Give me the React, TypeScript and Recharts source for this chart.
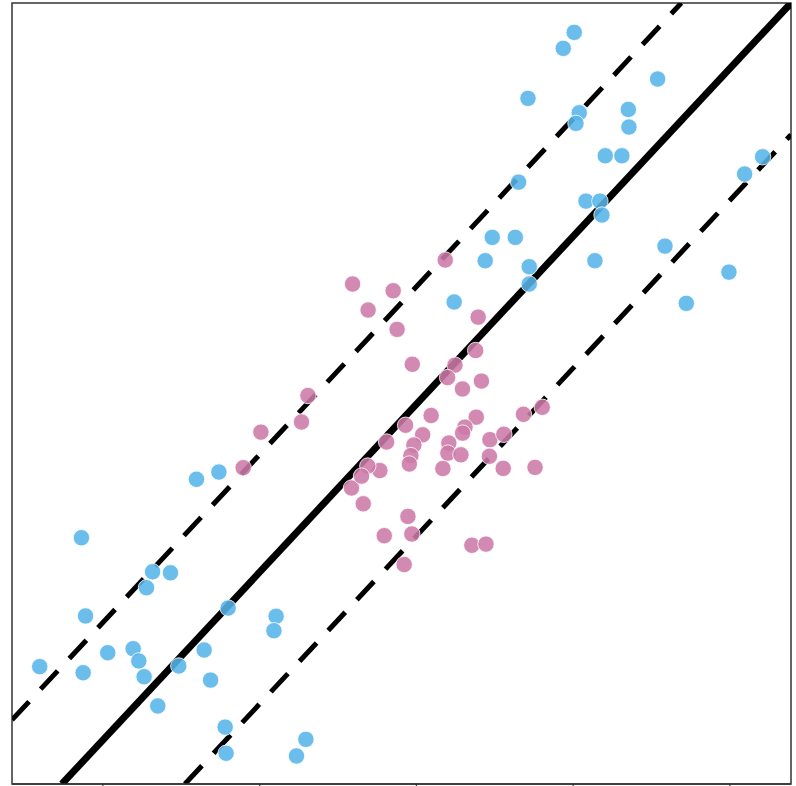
import React from "react";
import {
  ScatterChart,
  Scatter,
  XAxis,
  YAxis,
  ReferenceLine,
  ReferenceArea,
} from "recharts";

// Axis limits and tick positions
const X_DOMAIN: [number, number] = [-2.58, 2.39];
const Y_DOMAIN: [number, number] = [-2.262, 2.39];
const X_TICKS = [-2, -1, 0, 1, 2];

// Reference lines y = x + offset (solid identity, dashed bands)
const IDENTITY_OFFSET = 0;
const BAND_OFFSETS = [0.7, -0.785];

// Blue group
const blueX = [
  1.007, 0.937, 1.539, 0.712, 1.039, 1.018, 1.352, 1.356, 1.205, 1.311,
  2.209, 2.094, 0.652, 1.082, 1.171, 1.184, 0.484, 0.631, 1.586, 0.439,
  1.139, 0.72, 0.72, 1.994, 0.241, 1.722, -1.403, -1.26, -2.137, -1.683,
  -1.569, -1.722, -2.111, -1.201, -0.895, -0.909, -2.403, -2.126, -1.969, -1.807,
  -1.771, -1.737, -1.516, -1.354, -1.313, -1.65, -1.22, -1.214, -0.705, -0.765,
];
const blueY = [
  2.215, 2.12, 1.937, 1.822, 1.736, 1.673, 1.756, 1.651, 1.48, 1.48,
  1.474, 1.371, 1.323, 1.21, 1.21, 1.127, 0.994, 0.994, 0.942, 0.855,
  0.855, 0.819, 0.716, 0.787, 0.609, 0.601, -0.447, -0.404, -0.795, -0.998,
  -1.004, -1.093, -1.261, -1.214, -1.263, -1.349, -1.563, -1.599, -1.48, -1.456,
  -1.529, -1.623, -1.559, -1.464, -1.643, -1.797, -1.923, -2.079, -1.996, -2.095,
];

// Pink group
const pinkX = [
  0.184, -0.407, -0.148, -0.308, -0.123, 0.394, 0.378, -0.026, 0.246, 0.199,
  0.415, 0.294, -0.692, -0.733, -0.992, -1.105, 0.094, -0.069, 0.04, 0.382,
  0.31, 0.295, 0.683, 0.803, -0.016, -0.035, -0.045, -0.19, 0.207, 0.201,
  0.284, 0.469, 0.558, 0.466, -0.233, -0.31, 0.169, 0.554, 0.757, -0.414,
  -0.339, -0.054, -0.029, -0.205, 0.354, 0.444, -0.078, -0.35,
];
const pinkY = [
  0.859, 0.716, 0.676, 0.561, 0.446, 0.519, 0.32, 0.238, 0.233, 0.159,
  0.138, 0.091, 0.052, -0.106, -0.166, -0.378, -0.067, -0.125, -0.182, -0.077,
  -0.136, -0.172, -0.06, -0.018, -0.243, -0.306, -0.356, -0.225, -0.231, -0.291,
  -0.301, -0.211, -0.179, -0.31, -0.395, -0.368, -0.383, -0.382, -0.376, -0.499,
  -0.593, -0.668, -0.773, -0.783, -0.84, -0.833, -0.955, -0.428,
];

const BLUE = "#56B4E9";
const PINK = "#CC79A7";
const DOT_R = 8.2;

const toPoints = (xs: number[], ys: number[]) =>
  xs.map((x, i) => ({ x, y: ys[i] }));

const blueData = toPoints(blueX, blueY);
const pinkData = toPoints(pinkX, pinkY);

const lineSegment = (offset: number) => {
  const x1 = Math.max(X_DOMAIN[0], Y_DOMAIN[0] - offset);
  const x2 = Math.min(X_DOMAIN[1], Y_DOMAIN[1] - offset);
  return [
    { x: x1, y: x1 + offset },
    { x: x2, y: x2 + offset },
  ];
};

const makeDot = (color: string) => (props: any) => (
  <circle
    cx={props.cx}
    cy={props.cy}
    r={DOT_R}
    fill={color}
    fillOpacity={0.88}
    stroke="#fff"
    strokeWidth={0.8}
  />
);

export default function App() {
  return (
    <div style={{ position: "absolute", left: 0, top: 0, background: "#fff" }}>
      <ScatterChart
        width={796}
        height={786}
        margin={{ top: 3, right: 5, bottom: 0, left: 12 }}
      >
        <XAxis
          type="number"
          dataKey="x"
          domain={X_DOMAIN}
          ticks={X_TICKS}
          allowDataOverflow
          height={2}
          tickSize={4}
          tickFormatter={() => ""}
          axisLine={{ stroke: "#333", strokeWidth: 1.5 }}
          tickLine={{ stroke: "#333", strokeWidth: 1.2 }}
        />
        <YAxis
          type="number"
          dataKey="y"
          domain={Y_DOMAIN}
          allowDataOverflow
          hide
        />
        <ReferenceArea
          x1={X_DOMAIN[0]}
          x2={X_DOMAIN[1]}
          y1={Y_DOMAIN[0]}
          y2={Y_DOMAIN[1]}
          fill="none"
          fillOpacity={0}
          stroke="#333"
          strokeWidth={1.5}
          ifOverflow="visible"
        />
        <Scatter
          data={blueData}
          fill={BLUE}
          shape={makeDot(BLUE)}
          isAnimationActive={false}
        />
        <Scatter
          data={pinkData}
          fill={PINK}
          shape={makeDot(PINK)}
          isAnimationActive={false}
        />
        {BAND_OFFSETS.map((off) => (
          <ReferenceLine
            key={off}
            segment={lineSegment(off)}
            stroke="#000"
            strokeWidth={5}
            strokeDasharray="25 17"
            ifOverflow="hidden"
          />
        ))}
        <ReferenceLine
          segment={lineSegment(IDENTITY_OFFSET)}
          stroke="#000"
          strokeWidth={7}
          ifOverflow="hidden"
        />
      </ScatterChart>
    </div>
  );
}
